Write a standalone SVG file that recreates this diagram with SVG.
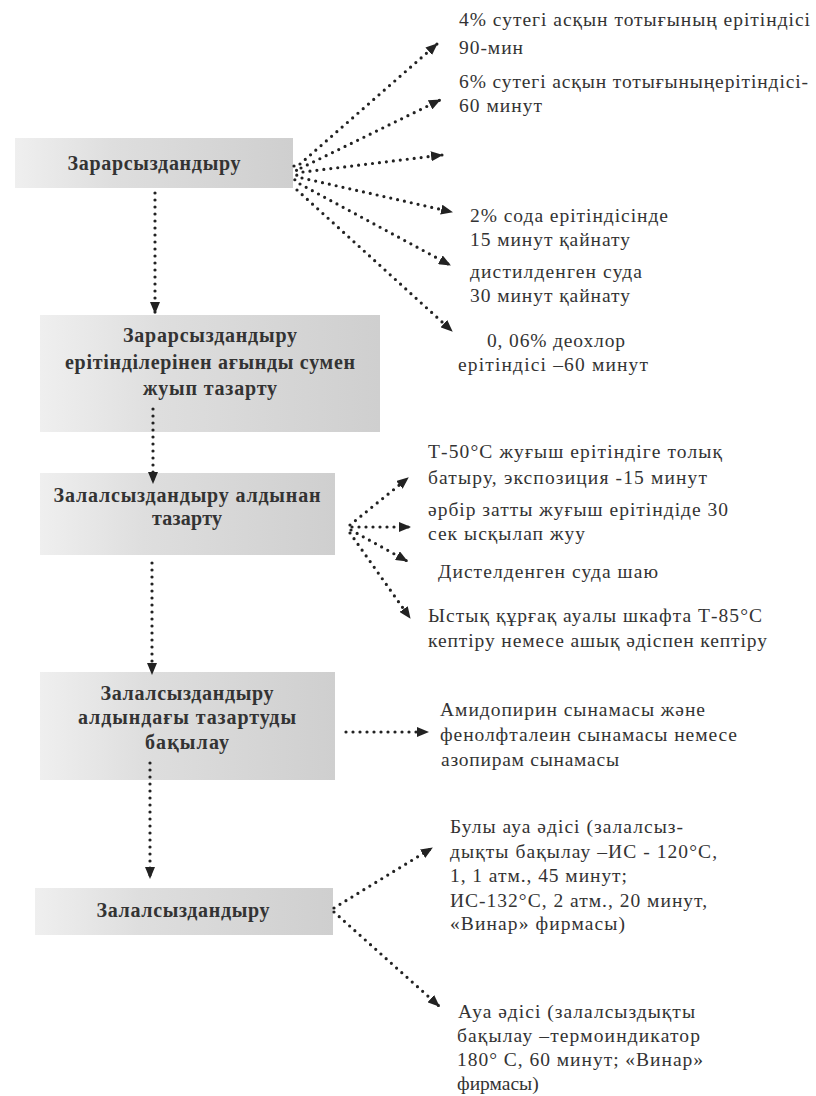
<svg xmlns="http://www.w3.org/2000/svg" width="816" height="1096" viewBox="0 0 816 1096">
<defs>
<linearGradient id="boxg" x1="0" y1="0" x2="1" y2="0">
<stop offset="0" stop-color="#efefef"/>
<stop offset="0.35" stop-color="#dedede"/>
<stop offset="1" stop-color="#cfcfcf"/>
</linearGradient>
<marker id="ah" markerUnits="userSpaceOnUse" markerWidth="12" markerHeight="10" refX="11" refY="5" orient="auto">
<path d="M0,0 L12,5 L0,10 Z" fill="#222"/>
</marker>
<style>
.box{fill:url(#boxg);}
.bt{font-family:"Liberation Serif","DejaVu Serif",serif;font-weight:bold;font-size:20px;fill:#333;text-anchor:middle;}
.t{font-family:"Liberation Serif","DejaVu Serif",serif;font-size:19.5px;fill:#333;}
.c{fill:none;stroke:#222;stroke-width:3.2;stroke-linecap:round;stroke-dasharray:0 7;marker-end:url(#ah);}
.c0{fill:none;stroke:#222;stroke-width:3.2;stroke-linecap:round;stroke-dasharray:0 5;}
</style>
</defs>
<rect width="816" height="1096" fill="#ffffff"/>

<g id="n1">
<rect class="box" x="15" y="138" width="278" height="50"/>
<text class="bt" x="154" y="170" textLength="173" lengthAdjust="spacing">Зарарсыздандыру</text>
</g>
<g id="n2">
<rect class="box" x="40" y="315" width="340" height="117"/>
<text class="bt" x="210" y="342" textLength="174" lengthAdjust="spacing">Зарарсыздандыру</text>
<text class="bt" x="210" y="369" textLength="290" lengthAdjust="spacing">ерітінділерінен ағынды сумен</text>
<text class="bt" x="210" y="395" textLength="134" lengthAdjust="spacing">жуып тазарту</text>
</g>
<g id="n3">
<rect class="box" x="40" y="473" width="295" height="82"/>
<text class="bt" x="187" y="502" textLength="267" lengthAdjust="spacing">Залалсыздандыру алдынан</text>
<text class="bt" x="187" y="525" textLength="70" lengthAdjust="spacing">тазарту</text>
</g>
<g id="n4">
<rect class="box" x="40" y="672" width="295" height="108"/>
<text class="bt" x="187" y="700" textLength="173" lengthAdjust="spacing">Залалсыздандыру</text>
<text class="bt" x="187" y="724" textLength="218" lengthAdjust="spacing">алдындағы тазартуды</text>
<text class="bt" x="187" y="749" textLength="84" lengthAdjust="spacing">бақылау</text>
</g>
<g id="n5">
<rect class="box" x="35" y="888" width="298" height="47"/>
<text class="bt" x="183" y="917" textLength="173" lengthAdjust="spacing">Залалсыздандыру</text>
</g>

<g id="t1">
<text class="t" x="459" y="26" textLength="351" lengthAdjust="spacing">4% сутегі асқын тотығының ерітіндісі</text>
<text class="t" x="459" y="54" textLength="64" lengthAdjust="spacing">90-мин</text>
</g>
<g id="t2">
<text class="t" x="459" y="88" textLength="349" lengthAdjust="spacing">6% сутегі асқын тотығыныңерітіндісі-</text>
<text class="t" x="459" y="112" textLength="83" lengthAdjust="spacing">60 минут</text>
</g>
<g id="t3">
<text class="t" x="470" y="222" textLength="198" lengthAdjust="spacing">2% сода ерітіндісінде</text>
<text class="t" x="470" y="246" textLength="160" lengthAdjust="spacing">15 минут қайнату</text>
</g>
<g id="t4">
<text class="t" x="470" y="278" textLength="172" lengthAdjust="spacing">дистилденген суда</text>
<text class="t" x="470" y="302" textLength="160" lengthAdjust="spacing">30 минут қайнату</text>
</g>
<g id="t5">
<text class="t" x="487" y="347" textLength="138" lengthAdjust="spacing">0, 06% деохлор</text>
<text class="t" x="458" y="371" textLength="190" lengthAdjust="spacing">ерітіндісі –60 минут</text>
</g>
<g id="t6">
<text class="t" x="428" y="458" textLength="294" lengthAdjust="spacing">Т-50°С жуғыш ерітіндіге толық</text>
<text class="t" x="428" y="484" textLength="279" lengthAdjust="spacing">батыру, экспозиция -15 минут</text>
</g>
<g id="t7">
<text class="t" x="428" y="516" textLength="300" lengthAdjust="spacing">әрбір затты жуғыш ерітіндіде 30</text>
<text class="t" x="428" y="540" textLength="157" lengthAdjust="spacing">сек ысқылап жуу</text>
</g>
<g id="t8">
<text class="t" x="438" y="578" textLength="220" lengthAdjust="spacing">Дистелденген суда шаю</text>
</g>
<g id="t9">
<text class="t" x="428" y="622" textLength="334" lengthAdjust="spacing">Ыстық құрғақ ауалы шкафта Т-85°С</text>
<text class="t" x="428" y="647" textLength="339" lengthAdjust="spacing">кептіру немесе ашық әдіспен кептіру</text>
</g>
<g id="t10">
<text class="t" x="440" y="716" textLength="265" lengthAdjust="spacing">Амидопирин сынамасы және</text>
<text class="t" x="440" y="741" textLength="297" lengthAdjust="spacing">фенолфталеин сынамасы немесе</text>
<text class="t" x="441" y="766" textLength="178" lengthAdjust="spacing">азопирам сынамасы</text>
</g>
<g id="t11">
<text class="t" x="450" y="833" textLength="233" lengthAdjust="spacing">Булы ауа әдісі (залалсыз-</text>
<text class="t" x="450" y="858" textLength="267" lengthAdjust="spacing">дықты бақылау –ИС - 120°С,</text>
<text class="t" x="450" y="882" textLength="177" lengthAdjust="spacing">1, 1 атм., 45 минут;</text>
<text class="t" x="450" y="907" textLength="257" lengthAdjust="spacing">ИС-132°С, 2 атм., 20 минут,</text>
<text class="t" x="450" y="930" textLength="175" lengthAdjust="spacing">«Винар» фирмасы)</text>
</g>
<g id="t12">
<text class="t" x="458" y="1018" textLength="237" lengthAdjust="spacing">Ауа әдісі (залалсыздықты</text>
<text class="t" x="457" y="1042" textLength="243" lengthAdjust="spacing">бақылау –термоиндикатор</text>
<text class="t" x="457" y="1066" textLength="246" lengthAdjust="spacing">180° С, 60 минут; «Винар»</text>
<text class="t" x="457" y="1090">фирмасы)</text>
</g>

<g id="connectors">
<path class="c0" d="M294,166 Q300,173 294,181"/>
<path class="c" d="M300,164 L437,44"/>
<path class="c" d="M301,168 L440,100"/>
<path class="c" d="M303,172 L442,155"/>
<path class="c" d="M302,178 L452,212"/>
<path class="c" d="M300,184 L450,265"/>
<path class="c" d="M297,190 L452,331"/>
<path class="c" d="M155,193 L155,313"/>
<path class="c" d="M153,409 L153,483"/>
<path class="c" d="M152,563 L152,674"/>
<path class="c" d="M150,763 L150,878"/>
<path class="c" d="M350,525 L408,478"/>
<path class="c" d="M352,527 L410,527"/>
<path class="c" d="M351,530 L407,561"/>
<path class="c" d="M350,533 L410,618"/>
<path class="c" d="M346,732 L428,732"/>
<path class="c" d="M334,908 L432,848"/>
<path class="c" d="M334,912 L439,1006"/>
</g>
</svg>
